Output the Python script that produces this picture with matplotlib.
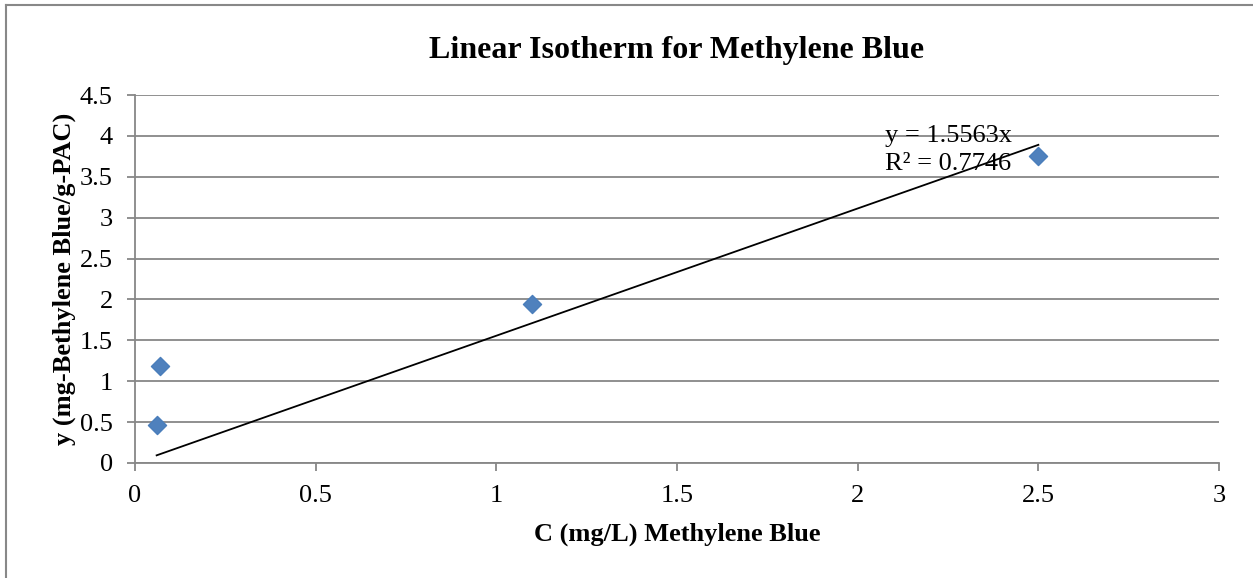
import numpy as np
import matplotlib.pyplot as plt
from matplotlib.lines import Line2D

# Isotherm data
conc = [0.06, 0.07, 1.10, 2.50]
adsorbed = [0.47, 1.18, 1.95, 3.75]
slope = 1.5563
r_squared = 0.7746

x_ticks = [0, 0.5, 1, 1.5, 2, 2.5, 3]
y_ticks = [0, 0.5, 1, 1.5, 2, 2.5, 3, 3.5, 4, 4.5]

plt.rcParams['font.family'] = ['Liberation Serif', 'DejaVu Serif']

fig = plt.figure(figsize=(12.53, 5.78), dpi=100)
ax = fig.add_axes([0.1077, 0.199, 0.8652, 0.6366])

# figure border
fig.add_artist(Line2D([0.005, 0.005], [0, 0.991], color='#888888', lw=1.5, transform=fig.transFigure))
fig.add_artist(Line2D([0.005, 1], [0.991, 0.991], color='#888888', lw=1.5, transform=fig.transFigure))

ax.scatter(conc, adsorbed, marker='D', s=85, color='#4F81BD', edgecolors='#4A7EBB', zorder=3)

# trendline through origin
xs = np.array([min(conc), max(conc)])
ax.plot(xs, slope * xs, color='black', lw=1.3, zorder=4)
ax.text(2.075, 4.13, f'y = {slope}x\nR² = {r_squared}', fontsize=19, va='top', ha='left',
        linespacing=1.35, zorder=5)

ax.set_xlim(0, 3)
ax.set_ylim(0, 4.5)
ax.set_xticks(x_ticks)
ax.set_xticklabels([f'{t:g}' for t in x_ticks])
ax.set_yticks(y_ticks)
ax.set_yticklabels([f'{t:g}' for t in y_ticks])
ax.grid(axis='y', color='#878787', lw=1.3)
ax.set_axisbelow(True)
for s in ['top', 'right']:
    ax.spines[s].set_visible(False)
for s in ['left', 'bottom']:
    ax.spines[s].set_color('#878787')
    ax.spines[s].set_linewidth(1.3)
ax.tick_params(axis='both', colors='#878787', labelcolor='black', labelsize=19, length=6, width=1.3)
ax.tick_params(axis='x', pad=10)
ax.tick_params(axis='y', pad=10)

ax.set_title('Linear Isotherm for Methylene Blue', fontsize=23, fontweight='bold', pad=27)
ax.set_xlabel('C (mg/L) Methylene Blue', fontsize=19, fontweight='bold', labelpad=11)
ax.set_ylabel('y (mg-Bethylene Blue/g-PAC)', fontsize=19, fontweight='bold', labelpad=3)

fig.savefig('out.png', dpi=100)
